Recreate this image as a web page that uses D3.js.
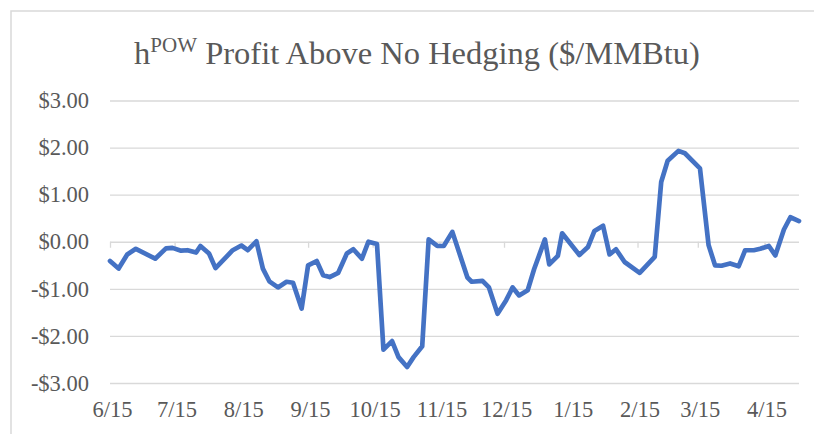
<!DOCTYPE html>
<html>
<head>
<meta charset="utf-8">
<script src="https://cdn.jsdelivr.net/npm/d3@7"></script>
<style>
  body { margin: 0; background: #fff; }
  svg { display: block; }
  text { font-family: "Liberation Serif", "Times New Roman", serif; }
</style>
</head>
<body>
<div id="chart-container"></div>
<script>
// Observation dates and profit values ($/MMBtu)
const dates = [
    "2017-06-15", "2017-06-19", "2017-06-23", "2017-06-27", "2017-07-06", "2017-07-11",
    "2017-07-14", "2017-07-18", "2017-07-21", "2017-07-25", "2017-07-27", "2017-07-31",
    "2017-08-03", "2017-08-11", "2017-08-15", "2017-08-18", "2017-08-22", "2017-08-25",
    "2017-08-28", "2017-09-01", "2017-09-05", "2017-09-08", "2017-09-12", "2017-09-15",
    "2017-09-19", "2017-09-22", "2017-09-25", "2017-09-29", "2017-10-03", "2017-10-06",
    "2017-10-10", "2017-10-13", "2017-10-17", "2017-10-20", "2017-10-24", "2017-10-27",
    "2017-10-31", "2017-11-03", "2017-11-07", "2017-11-10", "2017-11-14", "2017-11-17",
    "2017-11-21", "2017-11-28", "2017-11-30", "2017-12-05", "2017-12-08", "2017-12-12",
    "2017-12-16", "2017-12-19", "2017-12-22", "2017-12-26", "2017-12-29", "2018-01-03",
    "2018-01-05", "2018-01-09", "2018-01-11", "2018-01-19", "2018-01-23", "2018-01-26",
    "2018-01-30", "2018-02-02", "2018-02-05", "2018-02-09", "2018-02-16", "2018-02-23",
    "2018-02-26", "2018-03-01", "2018-03-06", "2018-03-09", "2018-03-16", "2018-03-20",
    "2018-03-23", "2018-03-26", "2018-03-30", "2018-04-03", "2018-04-06", "2018-04-10",
    "2018-04-13", "2018-04-17", "2018-04-20", "2018-04-24", "2018-04-27", "2018-05-01"
];
const values = [
    -0.41, -0.57, -0.27, -0.15, -0.36, -0.14,
    -0.13, -0.19, -0.18, -0.23, -0.09, -0.25,
    -0.56, -0.18, -0.08, -0.18, 0.01, -0.57,
    -0.84, -0.97, -0.85, -0.87, -1.42, -0.50,
    -0.41, -0.71, -0.75, -0.66, -0.25, -0.16,
    -0.36, 0.00, -0.05, -2.29, -2.11, -2.45,
    -2.66, -2.45, -2.22, 0.05, -0.09, -0.09,
    0.21, -0.76, -0.85, -0.83, -0.97, -1.53,
    -1.24, -0.97, -1.14, -1.03, -0.58, 0.05,
    -0.48, -0.30, 0.18, -0.28, -0.11, 0.23,
    0.34, -0.27, -0.16, -0.43, -0.66, -0.32,
    1.27, 1.72, 1.93, 1.88, 1.56, -0.07,
    -0.50, -0.51, -0.46, -0.52, -0.18, -0.18,
    -0.15, -0.09, -0.29, 0.26, 0.52, 0.44
];
const yTicks = [-3, -2, -1, 0, 1, 2, 3];
const xTickDates = [
    "2017-06-15", "2017-07-15", "2017-08-15", "2017-09-15", "2017-10-15", "2017-11-15",
    "2017-12-15", "2018-01-15", "2018-02-15", "2018-03-15", "2018-04-15"
];

const parseDate = d3.timeParse("%Y-%m-%d");
const data = dates.map((d, i) => ({ date: parseDate(d), value: values[i] }));

const svgWidth = 814;
const svgHeight = 434;

const svg = d3.select("#chart-container")
    .append("svg")
    .attr("width", svgWidth)
    .attr("height", svgHeight);

// Chart area border (clipped on right and bottom like the original)
svg.append("rect")
    .attr("x", 11)
    .attr("y", 11)
    .attr("width", 830)
    .attr("height", 460)
    .attr("fill", "none")
    .attr("stroke", "#d9d9d9")
    .attr("stroke-width", 1.5);

const margin = { top: 100.5, right: 15, bottom: 51, left: 110 };
const width = svgWidth - margin.left - margin.right;
const height = svgHeight - margin.top - margin.bottom;

const g = svg.append("g")
    .attr("transform", "translate(" + margin.left + "," + margin.top + ")");

const x = d3.scaleTime()
    .domain(d3.extent(data, (d) => d.date))
    .range([0, width]);

const y = d3.scaleLinear()
    .domain([-3, 3])
    .range([height, 0]);

const fmtMoney = (v) => (v < 0 ? "-$" : "$") + Math.abs(v).toFixed(2);
const labelFont = "22.5px";

// Gridlines
g.append("g")
    .attr("class", "grid")
    .call(d3.axisLeft(y).tickValues(yTicks).tickSize(-width).tickFormat(""))
    .call((s) => s.select(".domain").remove())
    .call((s) => s.selectAll("line").attr("stroke", "#d9d9d9").attr("stroke-width", 1.3));

// Y axis labels
g.append("g")
    .call(d3.axisLeft(y).tickValues(yTicks).tickSize(0).tickPadding(21).tickFormat(fmtMoney))
    .call((s) => s.select(".domain").remove())
    .call((s) => s.selectAll("text")
        .attr("fill", "#595959")
        .style("font-size", labelFont)
        .style("font-family", "'Liberation Serif', 'Times New Roman', serif"));

// Tick marks on the zero line
g.append("g")
    .attr("transform", "translate(0," + y(0) + ")")
    .call(d3.axisBottom(x).tickValues(xTickDates.map(parseDate)).tickSize(6).tickFormat(""))
    .call((s) => s.select(".domain").remove())
    .call((s) => s.selectAll("line").attr("stroke", "#d9d9d9").attr("stroke-width", 1.3));

// X axis labels at the bottom
g.append("g")
    .attr("transform", "translate(0," + height + ")")
    .call(d3.axisBottom(x).tickValues(xTickDates.map(parseDate)).tickSize(0).tickPadding(18)
        .tickFormat(d3.timeFormat("%-m/%d")))
    .call((s) => s.select(".domain").remove())
    .call((s) => s.selectAll("text")
        .attr("fill", "#595959")
        .attr("dx", 2)
        .style("font-size", labelFont)
        .style("font-family", "'Liberation Serif', 'Times New Roman', serif"));

// Line
g.append("path")
    .datum(data)
    .attr("fill", "none")
    .attr("stroke", "#4472c4")
    .attr("stroke-width", 4.7)
    .attr("stroke-linejoin", "round")
    .attr("stroke-linecap", "round")
    .attr("d", d3.line()
        .x((d) => x(d.date))
        .y((d) => y(d.value)));

// Title with superscript
const title = svg.append("text")
    .attr("x", 417)
    .attr("y", 64)
    .attr("text-anchor", "middle")
    .attr("fill", "#595959")
    .style("font-size", "32.5px");
title.append("tspan").text("h");
title.append("tspan").attr("dy", -12).style("font-size", "21px").text("POW");
title.append("tspan").attr("dy", 12).text(" Profit Above No Hedging ($/MMBtu)");
</script>
</body>
</html>
